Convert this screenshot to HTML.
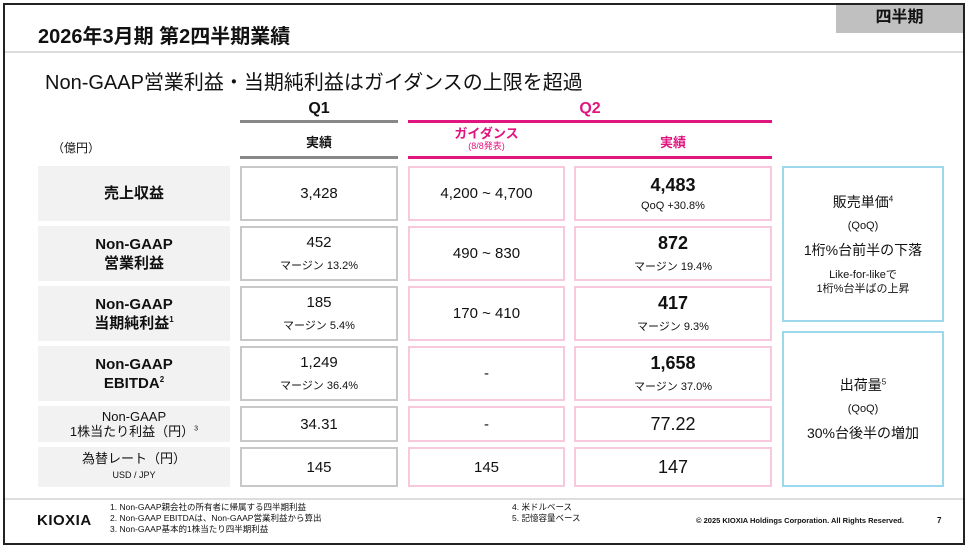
<!DOCTYPE html>
<html><head><meta charset="utf-8"><style>
*{margin:0;padding:0;box-sizing:border-box}
body{width:968px;height:554px;background:#fff;position:relative;overflow:hidden;font-family:"Liberation Sans","Noto Sans CJK JP",sans-serif;color:#111}
.a{position:absolute}
.c{position:absolute;display:flex;flex-direction:column;align-items:center;justify-content:center;text-align:center}
.lab{background:#f2f2f2;font-weight:bold;font-size:15px;line-height:19px}
.q1{border:2px solid #c8c8c8}
.pk{border:2px solid #f8c8dc}
.bl{border:2px solid #9ed8ec}
.v{font-size:15px}
.s{font-size:11px;margin-top:6px}
.b{font-size:18px;font-weight:bold}
sup{font-size:8px;vertical-align:super;line-height:0}
</style></head><body>
<div class="a" style="left:3px;top:3px;width:962px;height:542px;border:2px solid #222"></div>
<div class="a" style="left:836px;top:5px;width:127px;height:28px;background:#c0c0c0;font-weight:bold;font-size:16px;text-align:center;line-height:26px">四半期</div>
<div class="a" style="left:38px;top:20px;font-size:20px;font-weight:bold">2026年3月期 第2四半期業績</div>
<div class="a" style="left:5px;top:51px;width:958px;height:2px;background:#ddd"></div>
<div class="a" style="left:45px;top:66px;font-size:20px">Non-GAAP営業利益・当期純利益はガイダンスの上限を超過</div>
<div class="a" style="left:240px;top:100px;width:158px;text-align:center;font-weight:bold;font-size:16px">Q1</div>
<div class="a" style="left:408px;top:100px;width:364px;text-align:center;font-weight:bold;font-size:16px;color:#e0157f">Q2</div>
<div class="a" style="left:240px;top:120px;width:158px;height:3px;background:#888"></div>
<div class="a" style="left:408px;top:120px;width:364px;height:3px;background:#e0157f"></div>
<div class="a" style="left:240px;top:156px;width:158px;height:3px;background:#888"></div>
<div class="a" style="left:408px;top:156px;width:364px;height:3px;background:#e0157f"></div>
<div class="a" style="left:52px;top:139px;font-size:12px">（億円）</div>
<div class="a" style="left:240px;top:132px;width:158px;text-align:center;font-weight:bold;font-size:13px">実績</div>
<div class="a" style="left:408px;top:126px;width:157px;text-align:center;font-weight:bold;font-size:13px;color:#e0157f;line-height:15px">ガイダンス<div style="font-size:9px;font-weight:normal;line-height:11px">(8/8発表)</div></div>
<div class="a" style="left:574px;top:132px;width:198px;text-align:center;font-weight:bold;font-size:13px;color:#e0157f">実績</div>

<div class="c lab" style="left:38px;top:166px;width:192px;height:55px">売上収益</div>
<div class="c lab" style="left:38px;top:226px;width:192px;height:55px"><div>Non-GAAP<br>営業利益</div></div>
<div class="c lab" style="left:38px;top:286px;width:192px;height:55px"><div>Non-GAAP<br>当期純利益<sup>1</sup></div></div>
<div class="c lab" style="left:38px;top:346px;width:192px;height:55px"><div>Non-GAAP<br>EBITDA<sup>2</sup></div></div>
<div class="c lab" style="left:38px;top:406px;width:192px;height:36px;font-weight:normal;font-size:13px;line-height:15px"><div>Non-GAAP<br>1株当たり利益（円）<sup style="font-size:7px">3</sup></div></div>
<div class="c lab" style="left:38px;top:447px;width:192px;height:40px;font-weight:normal;font-size:13px;line-height:16px"><div>為替レート（円）</div><div style="font-size:9px">USD / JPY</div></div>

<div class="c q1 v" style="left:240px;top:166px;width:158px;height:55px">3,428</div>
<div class="c q1 v" style="left:240px;top:226px;width:158px;height:55px">452<div class="s">マージン 13.2%</div></div>
<div class="c q1 v" style="left:240px;top:286px;width:158px;height:55px">185<div class="s">マージン 5.4%</div></div>
<div class="c q1 v" style="left:240px;top:346px;width:158px;height:55px">1,249<div class="s">マージン 36.4%</div></div>
<div class="c q1 v" style="left:240px;top:406px;width:158px;height:36px">34.31</div>
<div class="c q1 v" style="left:240px;top:447px;width:158px;height:40px">145</div>

<div class="c pk v" style="left:408px;top:166px;width:157px;height:55px">4,200 ~ 4,700</div>
<div class="c pk v" style="left:408px;top:226px;width:157px;height:55px">490 ~ 830</div>
<div class="c pk v" style="left:408px;top:286px;width:157px;height:55px">170 ~ 410</div>
<div class="c pk v" style="left:408px;top:346px;width:157px;height:55px">-</div>
<div class="c pk v" style="left:408px;top:406px;width:157px;height:36px">-</div>
<div class="c pk v" style="left:408px;top:447px;width:157px;height:40px">145</div>

<div class="c pk" style="left:574px;top:166px;width:198px;height:55px"><span class="b">4,483</span><div class="s" style="margin-top:4px">QoQ +30.8%</div></div>
<div class="c pk" style="left:574px;top:226px;width:198px;height:55px"><span class="b">872</span><div class="s" style="margin-top:4px">マージン 19.4%</div></div>
<div class="c pk" style="left:574px;top:286px;width:198px;height:55px"><span class="b">417</span><div class="s" style="margin-top:4px">マージン 9.3%</div></div>
<div class="c pk" style="left:574px;top:346px;width:198px;height:55px"><span class="b">1,658</span><div class="s" style="margin-top:4px">マージン 37.0%</div></div>
<div class="c pk" style="left:574px;top:406px;width:198px;height:36px;font-size:18px">77.22</div>
<div class="c pk" style="left:574px;top:447px;width:198px;height:40px;font-size:18px">147</div>

<div class="c bl" style="left:782px;top:166px;width:162px;height:156px;font-size:14px;line-height:20px">
<div>販売単価<sup>4</sup></div><div style="font-size:11px;margin:4px 0">(QoQ)</div><div>1桁%台前半の下落</div><div style="font-size:11px;line-height:14px;margin-top:8px">Like-for-likeで<br>1桁%台半ばの上昇</div></div>
<div class="c bl" style="left:782px;top:331px;width:162px;height:156px;font-size:14px;line-height:20px">
<div>出荷量<sup>5</sup></div><div style="font-size:11px;margin:4px 0">(QoQ)</div><div>30%台後半の増加</div></div>

<div class="a" style="left:5px;top:498px;width:958px;height:2px;background:#ddd"></div>
<div class="a" style="left:37px;top:512px;font-size:15px;font-weight:bold;letter-spacing:0.5px">KIOXIA</div>
<div class="a" style="left:110px;top:502px;font-size:8.5px;line-height:11px">1. Non-GAAP親会社の所有者に帰属する四半期利益<br>2. Non-GAAP EBITDAは、Non-GAAP営業利益から算出<br>3. Non-GAAP基本的1株当たり四半期利益</div>
<div class="a" style="left:512px;top:502px;font-size:8.5px;line-height:11px">4. 米ドルベース<br>5. 記憶容量ベース</div>
<div class="a" style="left:696px;top:516px;font-size:7.5px;font-weight:bold">© 2025 KIOXIA Holdings Corporation. All Rights Reserved.</div>
<div class="a" style="left:937px;top:516px;font-size:8px;font-weight:bold">7</div>
</body></html>
